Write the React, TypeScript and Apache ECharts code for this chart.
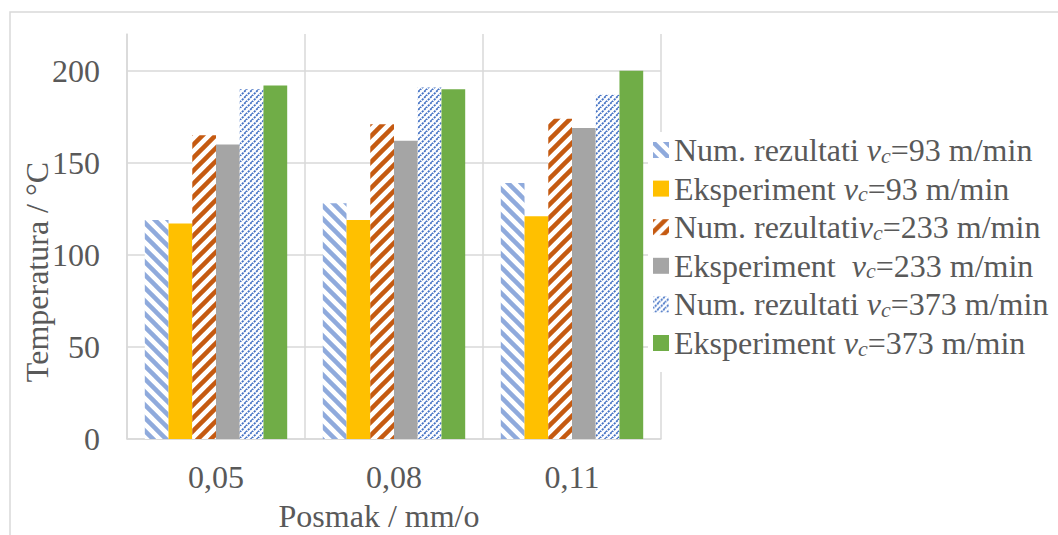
import React, { useEffect, useRef } from 'react';
import * as echarts from 'echarts';

const categories = ['0,05', '0,08', '0,11'];
const seriesNames = [
  'Num. rezultati vc=93 m/min',
  'Eksperiment vc=93 m/min',
  'Num. rezultativc=233 m/min',
  'Eksperiment  vc=233 m/min',
  'Num. rezultati vc=373 m/min',
  'Eksperiment vc=373 m/min',
];
const legendPrefix = ['Num. rezultati ', 'Eksperiment ', 'Num. rezultati', 'Eksperiment  ', 'Num. rezultati ', 'Eksperiment '];
const legendSuffix = ['=93 m/min', '=93 m/min', '=233 m/min', '=233 m/min', '=373 m/min', '=373 m/min'];
const num93 = [119, 128, 139];
const exp93 = [117, 119, 121];
const num233 = [165, 171, 174];
const exp233 = [160, 162, 169];
const num373 = [190, 191, 187];
const exp373 = [192, 190, 200];
const yAxisTitle = 'Temperatura / °C';
const xAxisTitle = 'Posmak / mm/o';

const FONT = '"Liberation Serif", "Times New Roman", serif';
const TEXT = '#595959';
const GRID = '#D9D9D9';

function stripe(color: string, size: number, width: number, dir: 'down' | 'up', dash?: number[]) {
  const c = document.createElement('canvas');
  c.width = size;
  c.height = size;
  const ctx = c.getContext('2d')!;
  ctx.fillStyle = '#ffffff';
  ctx.fillRect(0, 0, size, size);
  ctx.strokeStyle = color;
  ctx.lineWidth = width;
  if (dash) ctx.setLineDash(dash);
  for (let k = -1; k <= 1; k++) {
    ctx.beginPath();
    if (dir === 'down') {
      ctx.moveTo(k * size - 2, -2);
      ctx.lineTo(k * size + size + 2, size + 2);
    } else {
      ctx.moveTo(k * size + size + 2, -2);
      ctx.lineTo(k * size - 2, size + 2);
    }
    ctx.stroke();
  }
  return { image: c, repeat: 'repeat', imageWidth: size, imageHeight: size } as any;
}

export default function App() {
  const ref = useRef<HTMLDivElement>(null);
  useEffect(() => {
    document.body.style.margin = '0';
    const chart = echarts.init(ref.current!, null, { renderer: 'svg' });
    const fills: any[] = [
      stripe('#8FAADC', 13, 4.5, 'down'),
      '#FFC000',
      stripe('#C55A11', 13, 4.5, 'up'),
      '#A5A5A5',
      stripe('#4472C4', 6, 1.8, 'up', [2.2, 1]),
      '#70AD47',
    ];
    const values = [num93, exp93, num233, exp233, num373, exp373];
    const rich: any = {
      t: { fontFamily: FONT, fontSize: 32, color: TEXT, lineHeight: 32 },
      v: { fontFamily: FONT, fontSize: 32, fontStyle: 'italic', color: TEXT, lineHeight: 32 },
      s: { fontFamily: FONT, fontSize: 22, fontStyle: 'italic', color: TEXT, lineHeight: 20, verticalAlign: 'bottom' },
    };
    chart.setOption({
      animation: false,
      grid: { left: 127, top: 34, width: 534, height: 405, containLabel: false },
      legend: {
        orient: 'vertical',
        left: 648,
        top: 132,
        padding: [2, 5, 13, 5],
        backgroundColor: '#ffffff',
        itemWidth: 16,
        itemHeight: 16,
        itemGap: 6.6,
        icon: 'rect',
        data: seriesNames,
        formatter: (name: string) => {
          const i = seriesNames.indexOf(name);
          return `{t|${legendPrefix[i]}}{v|v}{s|c}{t|${legendSuffix[i]}}`;
        },
        textStyle: { fontFamily: FONT, fontSize: 32, color: TEXT, rich },
      },
      xAxis: {
        type: 'category',
        data: categories,
        axisTick: { show: false },
        axisLine: { lineStyle: { color: GRID, width: 1.5 } },
        splitLine: { show: true, lineStyle: { color: GRID, width: 1.5 } },
        axisLabel: { fontFamily: FONT, fontSize: 32, color: TEXT, margin: 22 },
      },
      yAxis: {
        type: 'value',
        min: 0,
        max: 220,
        interval: 50,
        axisLine: { show: true, lineStyle: { color: GRID, width: 1.5 } },
        axisTick: { show: false },
        splitLine: { show: true, showMaxLine: false, lineStyle: { color: GRID, width: 1.5 } },
        axisLabel: {
          fontFamily: FONT,
          fontSize: 32,
          color: TEXT,
          margin: 27,
          showMaxLabel: false,
          formatter: (v: number) => (v > 200 ? '' : String(v)),
        },
      },
      series: seriesNames.map((name, i) => ({
        name,
        type: 'bar',
        data: values[i],
        barGap: '0%',
        barCategoryGap: '20%',
        itemStyle: { color: fills[i] },
      })),
      graphic: [
        {
          type: 'rect',
          shape: { x: 10, y: 12, width: 1100, height: 600 },
          style: { fill: 'none', stroke: GRID, lineWidth: 1.5 },
          silent: true,
          z: -1,
        },
        {
          type: 'text',
          x: 37,
          y: 272,
          rotation: Math.PI / 2,
          style: {
            text: yAxisTitle,
            font: `32px ${FONT}`,
            fill: TEXT,
            textAlign: 'center',
            textVerticalAlign: 'middle',
          },
        },
        {
          type: 'text',
          x: 379,
          y: 516,
          style: {
            text: xAxisTitle,
            font: `32px ${FONT}`,
            fill: TEXT,
            textAlign: 'center',
            textVerticalAlign: 'middle',
          },
        },
      ],
    });
    return () => chart.dispose();
  }, []);
  return <div ref={ref} style={{ width: 1058, height: 535 }} />;
}
